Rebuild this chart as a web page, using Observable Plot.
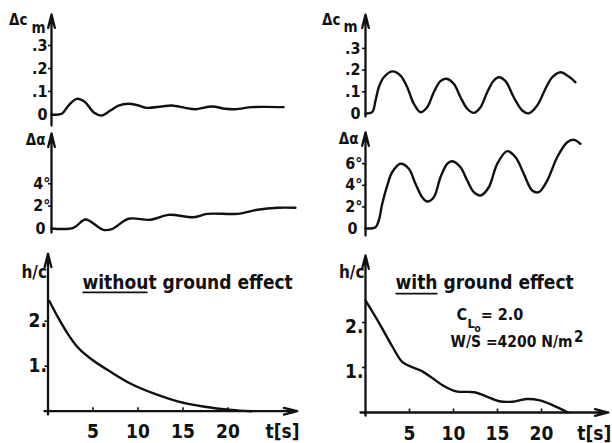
<!DOCTYPE html>
<html><head><meta charset="utf-8">
<script src="https://cdn.jsdelivr.net/npm/d3@7"></script>
<script src="https://cdn.jsdelivr.net/npm/@observablehq/plot@0.6"></script>
<style>
html,body{margin:0;padding:0;background:#fff;}
#chart{position:relative;width:612px;height:443px;overflow:hidden;background:#fff;}
#chart svg{position:absolute;left:0;top:0;background:transparent;}
</style></head><body><div id="chart"></div>
<script>
// ---------- data ----------
// without ground effect
const cmT_without = [0, 1.16, 1.91, 2.84, 3.79, 4.72, 5.65, 6.6, 7.53, 8.65, 9.78, 10.71, 12.39, 13.52, 15.02, 16.15, 18.01, 19.52, 20.64, 22.51, 24.01, 26.07];
const cmV_without = [0, 0.003, 0.039, 0.068, 0.053, 0.01, -0.004, 0.017, 0.039, 0.047, 0.039, 0.029, 0.035, 0.039, 0.029, 0.023, 0.035, 0.025, 0.023, 0.032, 0.033, 0.032];
const aT_without = [0, 2.47, 3.82, 5.84, 6.85, 8.65, 11.12, 13.15, 15.96, 17.53, 20.9, 23.15, 25.4, 27.4];
const aV_without = [0, 0.06, 0.80, -0.12, -0.03, 0.87, 0.78, 1.22, 1.01, 1.31, 1.31, 1.67, 1.85, 1.85];
const hT_without = [0.15, 1.1, 2.2, 3.3, 4.8, 7.0, 9.2, 11.8, 14.4, 17.4, 20.4, 22.6];
const hV_without = [2.45, 2.09, 1.72, 1.42, 1.16, 0.87, 0.61, 0.39, 0.22, 0.10, 0.03, 0];
// with ground effect
const cmT_with = [0, 0.76, 1.14, 1.51, 2.08, 3.03, 3.98, 4.74, 5.49, 6.25, 7.01, 7.76, 8.52, 9.2, 10.03, 10.8, 11.56, 12.31, 13.07, 13.83, 14.58, 15.15, 15.91, 16.85, 17.81, 18.56, 19.51, 20.45, 21.22, 22.16, 23.1, 23.86];
const cmV_with = [0, 0.006, 0.06, 0.121, 0.167, 0.194, 0.175, 0.121, 0.045, 0.006, 0.029, 0.098, 0.149, 0.16, 0.137, 0.075, 0.022, 0.003, 0.029, 0.098, 0.152, 0.167, 0.149, 0.075, 0.014, 0.001, 0.037, 0.114, 0.167, 0.19, 0.17, 0.144];
const aT_with = [0, 1.14, 1.51, 1.9, 2.47, 3.03, 3.98, 4.92, 5.68, 6.44, 7.01, 7.76, 8.52, 9.28, 9.85, 10.8, 11.56, 12.31, 13.07, 14.01, 14.97, 16.1, 17.05, 17.99, 18.94, 19.69, 20.65, 21.78, 22.92, 23.67, 24.43];
const aV_with = [0, 0.12, 0.74, 2.29, 3.98, 5.21, 5.99, 5.53, 4.14, 2.9, 2.5, 2.9, 4.75, 5.99, 6.23, 5.68, 4.44, 3.36, 3.06, 3.82, 5.99, 7.16, 6.6, 5.06, 3.52, 3.36, 4.44, 6.6, 7.99, 8.21, 7.84];
const hT_with = [0, 1.6, 3.1, 4.2, 5.4, 6.3, 7.5, 8.8, 10.3, 12.4, 13.7, 15.2, 16.7, 18.3, 19.8, 21.3, 23.0];
const hV_with = [2.49, 1.97, 1.45, 1.12, 1.0, 0.93, 0.78, 0.6, 0.47, 0.45, 0.36, 0.25, 0.24, 0.30, 0.27, 0.16, 0];
// tick values and labels
const cmTicks = [0, 0.1, 0.2, 0.3];
const cmTickLabels = ["0", ".1", ".2", ".3"];
const aTicksLeft = [2, 4];
const aTickLabelsLeft = ["2°", "4°"];
const aTicksRight = [2, 4, 6];
const aTickLabelsRight = ["2°", "4°", "6°"];
const hTicks = [1, 2];
const hTickLabels = ["1.", "2."];
const tTicks = [5, 10, 15, 20];
const tTickLabels = ["5", "10", "15", "20"];

// ---------- layout ----------
const W = 612, H = 443;
const FONT = '"DejaVu Sans Condensed","DejaVu Sans",sans-serif';
const geo = {
  TL: {x0: 51, xs: 8.9, y0: 114, ys: 230},
  ML: {x0: 51, xs: 8.9, y0: 228, ys: 11.2},
  BL: {x0: 47.5, xs: 9, y0: 410.7, ys: 45},
  TR: {x0: 365, xs: 8.8, y0: 113, ys: 217},
  MR: {x0: 365, xs: 8.8, y0: 228, ys: 10.8},
  BR: {x0: 365, xs: 8.8, y0: 412, ys: 45}
};
function panel(g, marks) {
  return Plot.plot({
    width: W, height: H, margin: 0,
    x: {type: "linear", domain: [0, 1], range: [g.x0, g.x0 + g.xs], axis: null},
    y: {type: "linear", domain: [0, 1], range: [g.y0, g.y0 - g.ys], axis: null},
    style: {background: "transparent", fontFamily: FONT, fontWeight: "bold", color: "#000", overflow: "visible"},
    marks
  });
}
const K = "#111";
const curve = (ts, vs, c = "catmull-rom") => Plot.line(ts, {x: ts, y: vs, curve: c, stroke: K, strokeWidth: 2.4, strokeLinejoin: "round", strokeLinecap: "round"});
const vArrow = (lo, hi) => Plot.arrow([0], {x1: 0, x2: 0, y1: lo, y2: hi, stroke: K, strokeWidth: 2.3, headLength: 9, headAngle: 28});
const hArrow = (lo, hi) => Plot.arrow([0], {x1: lo, x2: hi, y1: 0, y2: 0, stroke: K, strokeWidth: 2.3, headLength: 9, headAngle: 28});
const yTickMarks = (g, vals) => Plot.link(vals, {x1: -3.5 / g.xs, x2: 0, y1: d => d, y2: d => d, stroke: K, strokeWidth: 1.6});
const xTickMarks = (g, vals) => Plot.link(vals, {x1: d => d, x2: d => d, y1: 0, y2: 4 / g.ys, stroke: K, strokeWidth: 1.6});
const yLabels = (vals, labels, dx, size, dy = 0) => Plot.text(vals, {x: 0, y: d => d, text: (d, i) => labels[i], textAnchor: "end", dx, dy, fontSize: size, fill: K});
const lbl = (s, x, y, opts) => Plot.text([s], {x, y, text: d => d, fill: K, ...opts});

const chart = document.getElementById("chart");
const add = (svg) => chart.appendChild(svg);

// ----- top left: Δc_m without ground effect
add(panel(geo.TL, [
  vArrow(-0.048, 0.435),
  yTickMarks(geo.TL, cmTicks.slice(1)),
  yLabels(cmTicks, cmTickLabels, -4, 16),
  lbl("Δc", 0, 0.409, {textAnchor: "end", dx: -24, fontSize: 15}),
  lbl("m", 0, 0.375, {textAnchor: "end", dx: -6, fontSize: 15}),
  curve(cmT_without, cmV_without)
]));
// ----- middle left: Δα without ground effect
add(panel(geo.ML, [
  vArrow(-0.36, 8.48),
  yTickMarks(geo.ML, aTicksLeft),
  yLabels([0], ["0"], -6, 16),
  yLabels(aTicksLeft, aTickLabelsLeft, -1, 16),
  lbl("Δα", 0, 7.86, {textAnchor: "end", dx: -6, fontSize: 15}),
  curve(aT_without, aV_without)
]));
// ----- bottom left: h/c without ground effect
add(panel(geo.BL, [
  vArrow(-0.073, 3.5),
  hArrow(-0.39, 27.7),
  yTickMarks(geo.BL, hTicks),
  xTickMarks(geo.BL, tTicks),
  yLabels(hTicks, hTickLabels, -1, 19),
  Plot.text(tTicks, {x: d => d, y: 0, text: (d, i) => tTickLabels[i], dy: 21, fontSize: 19, fill: K}),
  lbl("t[s]", 26.06, 0, {dy: 21, fontSize: 19}),
  lbl("h/c", 0, 3.08, {textAnchor: "end", dx: -1, fontSize: 17}),
  lbl("without ground effect", 3.83, 2.86, {textAnchor: "start", fontSize: 19}),
  Plot.link([2.64], {x1: 3.83, x2: 11.06, y1: d => d, y2: d => d, stroke: K, strokeWidth: 1.8}),
  curve(hT_without, hV_without, "monotone-x")
]));
// ----- top right: Δc_m with ground effect
add(panel(geo.TR, [
  vArrow(-0.014, 0.456),
  yTickMarks(geo.TR, cmTicks.slice(1)),
  yLabels(cmTicks, cmTickLabels, -5, 16),
  lbl("Δc", 0, 0.429, {textAnchor: "end", dx: -25, fontSize: 15}),
  lbl("m", 0, 0.396, {textAnchor: "end", dx: -8, fontSize: 15}),
  curve(cmT_with, cmV_with)
]));
// ----- middle right: Δα with ground effect
add(panel(geo.MR, [
  vArrow(-0.65, 8.9),
  yTickMarks(geo.MR, aTicksRight),
  yLabels([0], ["0"], -8, 16),
  yLabels(aTicksRight, aTickLabelsRight, -3, 16),
  lbl("Δα", 0, 8.24, {textAnchor: "end", dx: -7, fontSize: 15}),
  curve(aT_with, aV_with)
]));
// ----- bottom right: h/c with ground effect
add(panel(geo.BR, [
  vArrow(-0.07, 3.49),
  hArrow(-0.57, 27.6),
  yTickMarks(geo.BR, hTicks),
  xTickMarks(geo.BR, tTicks),
  yLabels(hTicks, hTickLabels, -2, 19, 4),
  Plot.text(tTicks, {x: d => d, y: 0, text: (d, i) => tTickLabels[i], dy: 21, fontSize: 19, fill: K}),
  lbl("t[s]", 26.0, 0, {dy: 21, fontSize: 19}),
  lbl("h/c", 0, 3.11, {textAnchor: "end", dx: -1, fontSize: 17}),
  lbl("with ground effect", 3.41, 2.87, {textAnchor: "start", fontSize: 19}),
  Plot.link([2.64], {x1: 3.41, x2: 8.18, y1: d => d, y2: d => d, stroke: K, strokeWidth: 1.8}),
  lbl("C", 10.34, 2.16, {textAnchor: "start", fontSize: 16}),
  lbl("L", 11.6, 1.98, {textAnchor: "start", fontSize: 13}),
  lbl("o", 12.4, 1.86, {textAnchor: "start", fontSize: 10}),
  lbl("= 2.0", 13.1, 2.16, {textAnchor: "start", fontSize: 16}),
  lbl("W/S =4200 N/m", 9.66, 1.56, {textAnchor: "start", fontSize: 15.5}),
  lbl("2", 23.7, 1.68, {textAnchor: "start", fontSize: 15}),
  curve(hT_with, hV_with)
]));
</script></body></html>
